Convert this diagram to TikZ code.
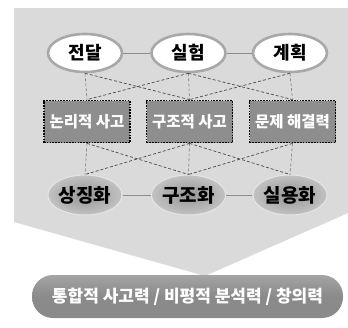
\documentclass[tikz,border=0pt]{standalone}
\usepackage{fontspec}
\newfontfamily\kr{Noto Sans CJK KR}
\usetikzlibrary{shapes.geometric,shadings}
\definecolor{bgc}{HTML}{DADADA}
\definecolor{rimc}{HTML}{A8A8A8}
\definecolor{boxc}{HTML}{8E8E8E}
\definecolor{pillc}{HTML}{8A8A8A}
\definecolor{pilltop}{HTML}{A4A4A4}
\definecolor{linec}{HTML}{8C8C8C}
\definecolor{dashc}{HTML}{4A4A4A}
\definecolor{vdashc}{HTML}{7A7A7A}
\definecolor{ellin}{HTML}{959595}
\definecolor{ellout}{HTML}{C2C2C2}
\tikzset{
  topell/.style={ellipse, draw=rimc, line width=2.6pt, fill=white, minimum width=74pt, minimum height=38pt, inner sep=0pt, font=\kr\bfseries\fontsize{18}{18}\selectfont},
  botell/.style={ellipse, draw=white!80!gray, line width=1pt, inner color=ellin, outer color=ellout, minimum width=74pt, minimum height=40pt, inner sep=0pt, font=\kr\bfseries\fontsize{19}{19}\selectfont},
  midbox/.style={rectangle, draw=black, line width=1.8pt, dash pattern=on 1.6pt off 1.2pt, fill=boxc, minimum width=86pt, minimum height=42pt, inner sep=0pt, text=white, font=\kr\bfseries\fontsize{15.5}{15.5}\selectfont},
  solidlink/.style={draw=linec, line width=0.9pt},
  dashlink/.style={draw=dashc, line width=0.7pt, dash pattern=on 3pt off 2pt},
  vdashlink/.style={draw=vdashc, line width=0.6pt, dash pattern=on 3pt off 2pt},
  pillbox/.style={rectangle, rounded corners=21pt, minimum width=311pt, minimum height=43pt, inner sep=0pt, text=white, font=\kr\bfseries\fontsize{17}{17}\selectfont}
}
\begin{document}
\begin{tikzpicture}[x=1pt,y=-1pt]
\useasboundingbox (0,0) rectangle (348,327);
\fill[bgc] (14,8) -- (348,8) -- (348,213) -- (205,276) -- (14,222) -- cycle;
% top ellipses
\node[topell] (t1) at (85,53) {전달};
\node[topell] (t2) at (188.5,53) {실험};
\node[topell] (t3) at (290,53) {계획};
% boxes
\node[midbox] (m1) at (87,121.5) {논리적 사고};
\node[midbox] (m2) at (189.5,121.5) {구조적 사고};
\node[midbox] (m3) at (292.5,121.5) {문제 해결력};
% bottom ellipses
\node[botell] (b1) at (85,195) {상징화};
\node[botell] (b2) at (188.5,195) {구조화};
\node[botell] (b3) at (290,195) {실용화};
% links
\draw[solidlink] (t1) -- (t2);
\draw[solidlink] (t2) -- (t3);
\draw[solidlink] (b1) -- (b2);
\draw[solidlink] (b2) -- (b3);
\draw[vdashlink] (t1.south) -- (m1.north);
\draw[vdashlink] (t2.south) -- (m2.north);
\draw[vdashlink] (t3.south) -- (m3.north);
\draw[dashlink] (t1.south) -- (m2.north);
\draw[dashlink] (t2.south) -- (m1.north);
\draw[dashlink] (t2.south) -- (m3.north);
\draw[dashlink] (t3.south) -- (m2.north);
\draw[vdashlink] (m1.south) -- (b1.north);
\draw[vdashlink] (m2.south) -- (b2.north);
\draw[vdashlink] (m3.south) -- (b3.north);
\draw[dashlink] (m1.south) -- (b2.north);
\draw[dashlink] (m2.south) -- (b1.north);
\draw[dashlink] (m2.south) -- (b3.north);
\draw[dashlink] (m3.south) -- (b2.north);
% pill
\node[pillbox, top color=pilltop, bottom color=pillc, middle color=pillc] (p) at (187.5,296.5) {통합적 사고력 / 비평적 분석력 / 창의력};
\end{tikzpicture}
\end{document}
